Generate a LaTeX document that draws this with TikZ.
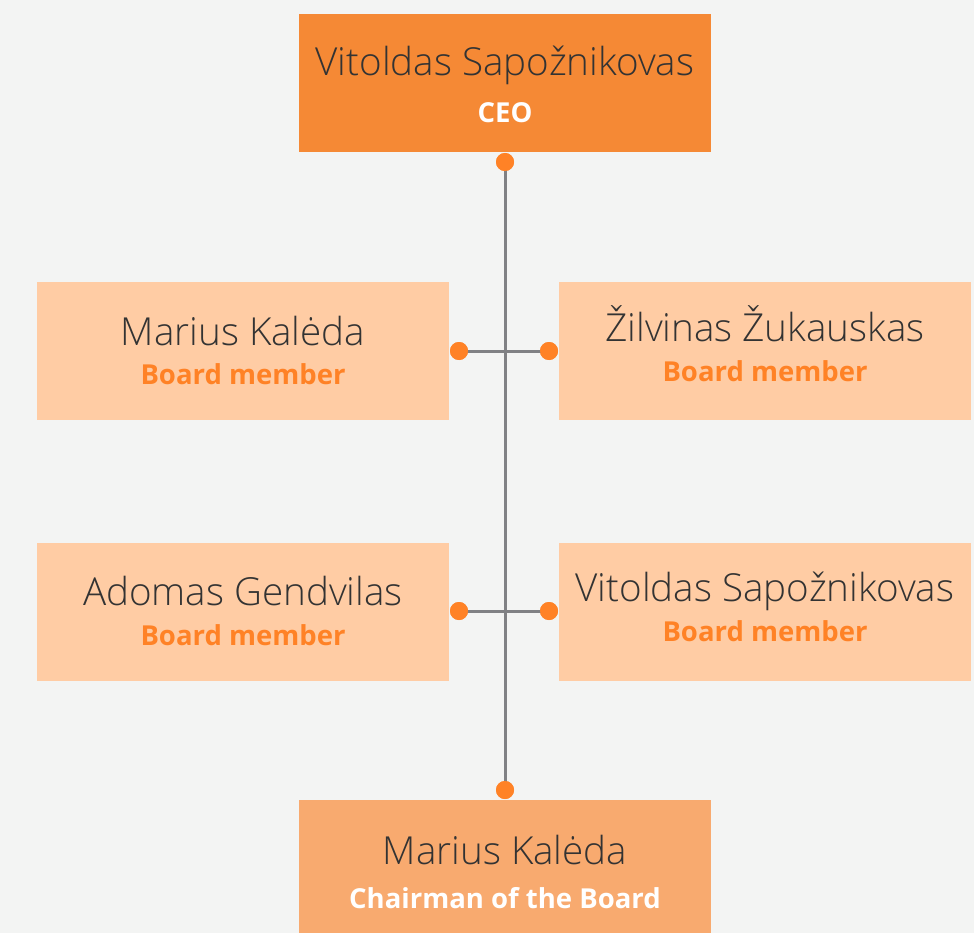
\documentclass[tikz,border=0pt]{standalone}
\usepackage{fontspec}
\setmainfont{Open Sans}
\newfontfamily\namefont{Open Sans Light}
\newfontfamily\titlefont{Open Sans Bold}
\definecolor{bgc}{HTML}{F3F4F3}
\definecolor{ceoc}{HTML}{F58935}
\definecolor{memc}{HTML}{FFCCA4}
\definecolor{chairc}{HTML}{F8AA6F}
\definecolor{dotc}{HTML}{FF8226}
\definecolor{linec}{HTML}{808184}
\definecolor{namec}{HTML}{333333}
\begin{document}
\begin{tikzpicture}[x=1pt,y=-1pt,
  box/.style={inner sep=0pt,minimum width=412pt,minimum height=138pt,draw=none},
  nm/.style={anchor=base,inner sep=0pt,text=namec,font=\namefont\fontsize{38.6}{40}\selectfont},
  ttl/.style={anchor=base,inner sep=0pt,font=\titlefont\fontsize{27.5}{29}\selectfont},
  dotn/.style={circle,fill=dotc,inner sep=0pt,minimum size=18pt},
  conn/.style={draw=linec,line width=3pt}]
\fill[bgc] (0,0) rectangle (974,933);
\useasboundingbox (0,0) rectangle (974,933);
% boxes
\node[box,fill=ceoc] (ceo) at (505,83.5) {};
\node[box,fill=memc] (m1) at (243,351) {};
\node[box,fill=memc] (m2) at (765,351) {};
\node[box,fill=memc] (m3) at (243,611.5) {};
\node[box,fill=memc] (m4) at (765,611.5) {};
\node[box,fill=chairc,minimum height=140pt] (ch) at (505,870) {};
% connectors
\node[dotn] (dtop) at (505,162) {};
\node[dotn] (dbot) at (505,790) {};
\node[dotn] (d1l) at (459,351) {};
\node[dotn] (d1r) at (549,351) {};
\node[dotn] (d2l) at (459,611) {};
\node[dotn] (d2r) at (549,611) {};
\draw[conn] (dtop.center) -- (dbot.center);
\draw[conn] (d1l.center) -- (d1r.center);
\draw[conn] (d2l.center) -- (d2r.center);
\node[dotn] at (dtop) {};
\node[dotn] at (dbot) {};
\node[dotn] at (d1l) {};
\node[dotn] at (d1r) {};
\node[dotn] at (d2l) {};
\node[dotn] at (d2r) {};
% texts
\node[nm] (ceon) at (505,76) {Vitoldas Sapožnikovas};
\node[ttl,text=white] (ceot) at (505,122.5) {CEO};
\node[nm] (m1n) at (243,345.7) {Marius Kalėda};
\node[ttl,text=dotc] (m1t) at (243,384.3) {Board member};
\node[nm] (m2n) at (765,341.7) {Žilvinas Žukauskas};
\node[ttl,text=dotc] (m2t) at (765,381.7) {Board member};
\node[nm] (m3n) at (243,605.7) {Adomas Gendvilas};
\node[ttl,text=dotc] (m3t) at (243,645) {Board member};
\node[nm] (m4n) at (765,601.7) {Vitoldas Sapožnikovas};
\node[ttl,text=dotc] (m4t) at (765,641.7) {Board member};
\node[nm] (chn) at (505,864) {Marius Kalėda};
\node[ttl,text=white] (cht) at (505,908) {Chairman of the Board};
\end{tikzpicture}
\end{document}
